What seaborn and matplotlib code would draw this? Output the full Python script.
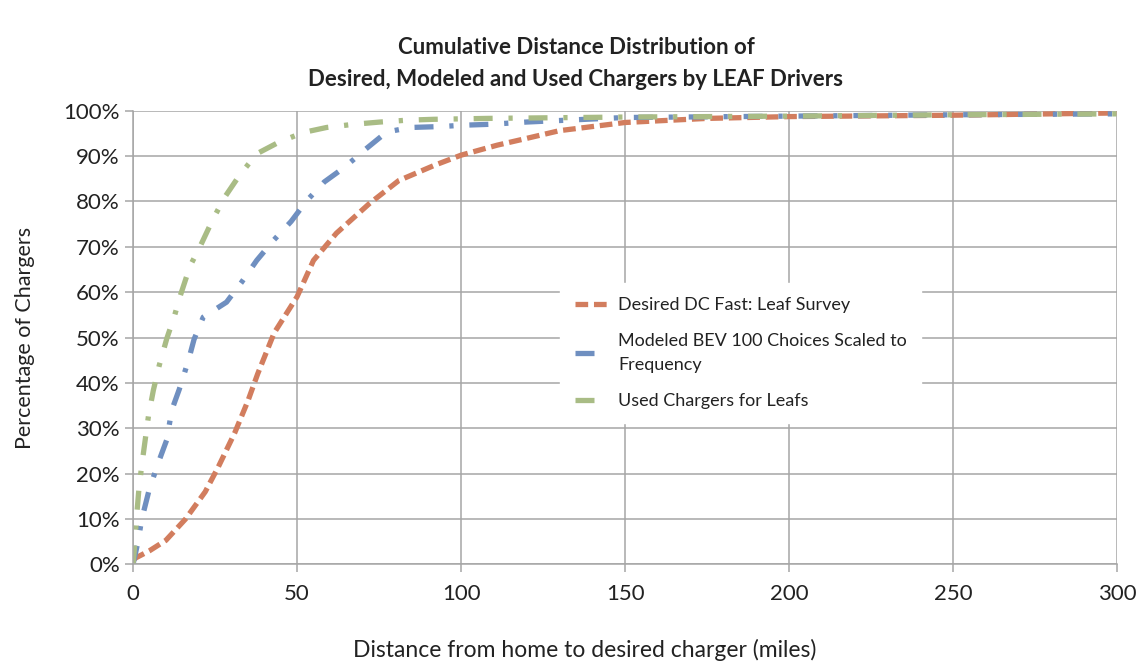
import matplotlib
matplotlib.use('Agg')
import matplotlib.pyplot as plt
import pandas as pd
import seaborn as sns
from matplotlib.ticker import PercentFormatter

# data (miles, cumulative share)
red_x = [0, 1, 5, 10, 16, 22, 26, 31, 35, 38, 43, 50, 55, 62, 72, 81, 92,
         100, 111, 120, 130, 150, 175, 200, 250, 300]
red_y = [0.01, 0.015, 0.03, 0.053, 0.10, 0.16, 0.215, 0.29, 0.36, 0.42, 0.51,
         0.59, 0.67, 0.73, 0.795, 0.846, 0.88, 0.902, 0.924, 0.939, 0.956,
         0.974, 0.983, 0.987, 0.99, 0.995]

blue_x = [0, 1.6, 2.6, 5, 8, 10.3, 11.8, 14.1, 16.9, 18.6, 21.4, 28.5, 33.1,
          37.7, 42.8, 48.2, 53, 58.3, 64.6, 70.7, 77.3, 84.5, 93.6, 100.7,
          108.8, 120, 150, 200, 250, 300]
blue_y = [0, 0.053, 0.098, 0.167, 0.23, 0.275, 0.34, 0.386, 0.45, 0.496,
          0.545, 0.578, 0.622, 0.67, 0.714, 0.756, 0.802, 0.843, 0.876, 0.914,
          0.953, 0.963, 0.965, 0.968, 0.97, 0.975, 0.985, 0.988, 0.991, 0.993]

green_x = [0, 0.3, 0.6, 1, 1.8, 2.6, 3.7, 4.7, 6.2, 8, 10.3, 12.6, 14.3, 17.4,
           20.4, 24.3, 28, 32.4, 37.7, 44.3, 51.9, 59, 67.2, 75.3, 83.4, 91.6,
           100, 108, 150, 200, 250, 300]
green_y = [0, 0.024, 0.053, 0.098, 0.167, 0.215, 0.274, 0.327, 0.384, 0.439,
           0.498, 0.547, 0.59, 0.658, 0.70, 0.76, 0.81, 0.857, 0.905, 0.93,
           0.952, 0.963, 0.97, 0.975, 0.979, 0.981, 0.982, 0.983, 0.986,
           0.988, 0.991, 0.993]

series_names = ['Desired DC Fast: Leaf Survey',
                'Modeled BEV 100 Choices Scaled to\nFrequency',
                'Used Chargers for Leafs']
series_x = [red_x, blue_x, green_x]
series_y = [red_y, blue_y, green_y]

colors = ['#D27D5E', '#6F8FC0', '#A9BC85']
dash_styles = [(2.4, 1.1), (3.6, 3.0, 0.8, 3.0), (3.6, 3.0, 0.8, 3.0)]

frames = []
for name, xs, ys in zip(series_names, series_x, series_y):
    frames.append(pd.DataFrame({'miles': xs, 'share': ys, 'series': name}))
df = pd.concat(frames, ignore_index=True)

sns.set_style('white')
plt.rcParams['font.family'] = ['Lato', 'DejaVu Sans']

fig = plt.figure(figsize=(11.4, 6.64), dpi=100)
ax = fig.add_axes([0.1167, 0.150, 0.8633, 0.6833])

grid_col = '#A6A6A6'
ax.grid(True, color=grid_col, linewidth=1.1)
ax.set_axisbelow(True)

sns.lineplot(data=df, x='miles', y='share', hue='series', style='series',
             hue_order=series_names, style_order=series_names,
             palette=dict(zip(series_names, colors)),
             dashes=dict(zip(series_names, dash_styles)),
             linewidth=3.8, sort=False, estimator=None, ax=ax)

ax.set_xlim(0, 300)
ax.set_ylim(0, 1)
ax.set_xticks(range(0, 301, 50))
ax.set_yticks([i / 10 for i in range(11)])
ax.yaxis.set_major_formatter(PercentFormatter(1.0, decimals=0))
ax.tick_params(axis='both', labelsize=16, colors='#222222', length=6,
               width=1.1, direction='out', left=True, bottom=True)
ax.tick_params(axis='both', color=grid_col)
ax.tick_params(axis='x', pad=8)

for side in ['top', 'right']:
    ax.spines[side].set_visible(False)
for side in ['left', 'bottom']:
    ax.spines[side].set_color(grid_col)
    ax.spines[side].set_linewidth(1.1)

ax.set_xlabel('')
ax.set_ylabel('Percentage of Chargers', fontsize=15.5, color='#222222')
ax.yaxis.set_label_coords(-0.1, 0.5)
fig.text(585 / 1140, 1 - 650 / 664,
         'Distance from home to desired charger (miles)',
         ha='center', va='center', fontsize=16.5, color='#222222')

fig.text(576 / 1140, 1 - 47 / 664,
         'Cumulative Distance Distribution of',
         ha='center', va='center', fontsize=16, fontweight='bold',
         color='#222222')
fig.text(576 / 1140, 1 - 79 / 664,
         'Desired, Modeled and Used Chargers by LEAF Drivers',
         ha='center', va='center', fontsize=16, fontweight='bold',
         color='#222222')

handles, labels = ax.get_legend_handles_labels()
leg = ax.legend(handles, labels, loc='upper left',
                bbox_to_anchor=(0.425, 0.64), frameon=True, framealpha=1,
                facecolor='white', edgecolor='white', fancybox=False,
                fontsize=13, handlelength=1.9, handletextpad=0.5,
                labelspacing=1.1, borderpad=0.8)
for t in leg.get_texts():
    t.set_color('#222222')
    t.set_linespacing(1.6)

fig.savefig('out.png', dpi=100)
